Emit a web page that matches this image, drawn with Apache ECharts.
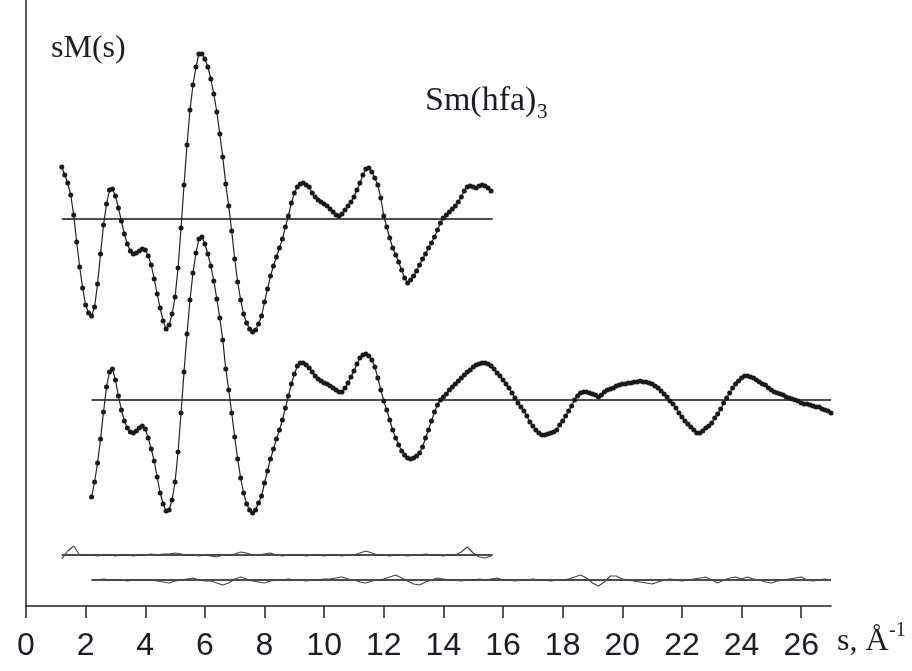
<!DOCTYPE html>
<html>
<head>
<meta charset="utf-8">
<script src="https://cdn.jsdelivr.net/npm/echarts@6/dist/echarts.min.js"></script>
<style>
  html, body { margin: 0; padding: 0; background: #fff; }
  #chart { width: 912px; height: 671px; }
</style>
</head>
<body>
<div id="chart"></div>
<script>
// sM(s), step 0.1 in s, relative to each curve's zero line
const upperStart = 1.2;
const upperValues = [
  52, 44, 36, 24, 4, -23, -48, -69, -86, -94,
  -97, -88, -65, -35, -6, 15, 29, 30, 23, 11,
  -2, -15, -25, -32, -35, -34, -32, -30, -31, -37,
  -46, -60, -75, -89, -102, -110, -106, -95, -78, -49,
  -9, 34, 74, 109, 134, 152, 165, 165, 160, 152,
  140, 125, 107, 85, 62, 35, 13, -12, -40, -63,
  -81, -95, -104, -110, -113, -111, -105, -97, -83, -70,
  -57, -47, -38, -29, -20, -8, 3, 16, 26, 32,
  35, 36, 34, 32, 26, 22, 19, 17, 15, 13,
  10, 7, 4, 3, 5, 9, 13, 17, 22, 29,
  36, 44, 50, 51, 47, 41, 34, 21, 3, -8,
  -19, -29, -36, -43, -51, -59, -64, -61, -57, -52,
  -46, -40, -35, -29, -24, -18, -11, -4, 1, 4,
  7, 10, 13, 17, 22, 28, 32, 33, 32, 31,
  33, 34, 33, 31, 28
];

const lowerStart = 2.2;
const lowerValues = [
  -97, -82, -63, -39, -12, 13, 28, 31, 20, 4,
  -10, -21, -28, -32, -33, -31, -28, -26, -29, -38,
  -49, -61, -77, -93, -104, -111, -110, -100, -82, -52,
  -13, 28, 66, 100, 127, 147, 161, 163, 156, 146,
  134, 119, 101, 82, 60, 31, 10, -13, -37, -59,
  -78, -93, -104, -110, -113, -110, -103, -96, -83, -71,
  -59, -49, -39, -30, -20, -8, 4, 16, 26, 34,
  37, 37, 35, 32, 28, 24, 21, 19, 17, 16,
  14, 12, 10, 8, 8, 12, 17, 23, 29, 36,
  42, 45, 46, 44, 40, 33, 22, 10, -1, -10,
  -20, -30, -38, -45, -51, -55, -58, -59, -58, -56,
  -53, -47, -38, -30, -21, -12, -5, 0, 3, 6,
  10, 13, 16, 19, 22, 25, 28, 30, 33, 35,
  36, 37, 37, 36, 34, 31, 27, 24, 20, 16,
  12, 7, 2, -3, -7, -11, -16, -22, -26, -30,
  -33, -35, -35, -34, -33, -32, -30, -25, -21, -16,
  -11, -6, 0, 4, 7, 8, 8, 7, 6, 5,
  3, 5, 8, 10, 11, 12, 14, 15, 16, 16,
  17, 17, 18, 18, 19, 18, 18, 17, 16, 14,
  12, 9, 6, 3, -1, -4, -8, -13, -17, -21,
  -24, -27, -30, -33, -33, -31, -28, -26, -23, -18,
  -14, -9, -3, 2, 7, 12, 16, 19, 22, 24,
  24, 23, 22, 20, 18, 16, 15, 12, 10, 8,
  7, 6, 5, 3, 2, 1, 0, -1, -3, -4,
  -4, -5, -6, -7, -7, -9, -10, -11, -13
];

// difference curves, step 0.2
const upperResid = [
  -4, 4, 9, 0, 0, 0, -1, 0, 0, -1,
  0, 0, -1, 0, 0, 1, 0, 1, 1, 2,
  1, 0, 0, -1, 0, -1, -2, 0, 0, 1,
  3, 2, 0, 0, 1, 2, 0, -1, 0, 0,
  0, -1, 0, 0, -1, 0, 0, -1, 0, 0,
  2, 4, 2, 0, 0, -1, 0, 0, -1, 0,
  0, 1, 0, 0, -1, 0, 0, 3, 8, 2,
  -2, -3, -1
];
const lowerResid = [
  0, 0, 1, 0, 0, 0, -1, 0, 0, 0,
  0, -1, -2, -3, -1, 0, 1, 2, 0, -1,
  -1, -3, -5, -3, 1, 3, 1, -1, -2, -3,
  -1, 0, 0, 1, 0, 0, -1, 0, 0, 1,
  1, 2, 3, 1, 0, -2, -3, -1, 0, 1,
  3, 5, 2, -1, -4, -5, -2, 0, 2, 1,
  0, 0, -1, 0, 0, 1, 0, 1, 2, 0,
  0, -1, 0, 0, 1, 0, 0, -1, 0, 0,
  1, 3, 5, 2, -3, -6, -2, 4, 4, 1,
  0, -1, -2, -3, -4, -2, 0, 1, 0, -1,
  0, 1, 2, 3, 0, -3, 0, 2, 3, 1,
  3, 1, 0, -2, -3, -1, 0, 1, 2, 3,
  0, -1, 0, 1, 0
];

// vertical offsets of the four curves and the extent of their zero lines
const upperOffset = 387;
const lowerOffset = 206;
const upperResidOffset = 51;
const lowerResidOffset = 26;
const upperRange = [1.2, 15.65];
const lowerRange = [2.2, 27];

const xTicks = [0, 2, 4, 6, 8, 10, 12, 14, 16, 18, 20, 22, 24, 26];

function toPoints(values, start, step, offset) {
  return values.map(function (v, i) {
    return [Math.round((start + i * step) * 10) / 10, offset + v];
  });
}

function zeroLine(range, offset) {
  return {
    type: "line",
    data: [[range[0], offset], [range[1], offset]],
    symbol: "none",
    lineStyle: { color: "#111", width: 1.5 },
    z: 1,
  };
}

const chart = echarts.init(document.getElementById("chart"));

const dotted = {
  type: "line",
  symbol: "circle",
  symbolSize: 5,
  showAllSymbol: true,
  itemStyle: { color: "#1a1a1a" },
  lineStyle: { color: "#222", width: 1.2 },
  z: 3,
};
const thin = {
  type: "line",
  symbol: "none",
  lineStyle: { color: "#444", width: 1.1 },
  z: 2,
};

chart.setOption({
  animation: false,
  backgroundColor: "#fff",
  grid: { left: 26, right: 81, top: 0, bottom: 65 },
  xAxis: {
    type: "value",
    min: 0,
    max: 27,
    interval: 2,
    axisLine: { show: true, lineStyle: { color: "#222", width: 1.5 } },
    axisTick: { show: true, length: 12, lineStyle: { color: "#222", width: 1.5 } },
    splitLine: { show: false },
    axisLabel: {
      margin: 24,
      color: "#1c1c24",
      fontFamily: "Liberation Sans",
      fontSize: 32,
      showMaxLabel: false,
      formatter: function (v) { return xTicks.indexOf(v) >= 0 ? String(v) : ""; },
    },
  },
  yAxis: {
    type: "value",
    min: 0,
    max: 606,
    axisLine: { show: true, lineStyle: { color: "#222", width: 1.5 } },
    axisTick: { show: false },
    axisLabel: { show: false },
    splitLine: { show: false },
  },
  series: [
    zeroLine(upperRange, upperOffset),
    zeroLine(lowerRange, lowerOffset),
    zeroLine(upperRange, upperResidOffset),
    zeroLine(lowerRange, lowerResidOffset),
    Object.assign({}, dotted, { data: toPoints(upperValues, upperStart, 0.1, upperOffset) }),
    Object.assign({}, dotted, { data: toPoints(lowerValues, lowerStart, 0.1, lowerOffset) }),
    Object.assign({}, thin, { data: toPoints(upperResid, upperStart, 0.2, upperResidOffset) }),
    Object.assign({}, thin, { data: toPoints(lowerResid, lowerStart, 0.2, lowerResidOffset) }),
  ],
  graphic: [
    {
      type: "text", left: 51, top: 33,
      style: { text: "sM(s)", font: '32px "Liberation Serif"', fill: "#1c1c24" },
    },
    {
      type: "text", left: 425, top: 84,
      style: { text: "Sm(hfa)", font: '34px "Liberation Serif"', fill: "#1c1c24" },
    },
    {
      type: "text", left: 537, top: 102,
      style: { text: "3", font: '21px "Liberation Serif"', fill: "#1c1c24" },
    },
    {
      type: "text", left: 837, top: 626,
      style: { text: "s, Å", font: '32px "Liberation Serif"', fill: "#1c1c24" },
    },
    {
      type: "text", left: 889, top: 621,
      style: { text: "-1", font: '20px "Liberation Serif"', fill: "#1c1c24" },
    },
  ],
});
</script>
</body>
</html>
